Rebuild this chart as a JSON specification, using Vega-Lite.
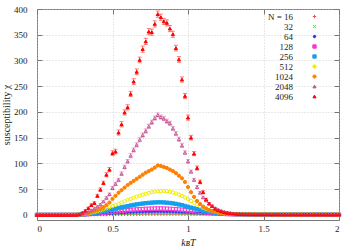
{
"$schema": "https://vega.github.io/schema/vega-lite/v6.json",
"width": 302, "height": 211,
"autosize": "none",
"padding": {"left": 37, "top": 9, "right": 19, "bottom": 30},
"background": "white",
"config": {
  "font": "Liberation Serif",
  "view": {"stroke": "#777", "strokeWidth": 1},
  "axis": {"labelFont": "Liberation Serif", "labelFontSize": 9, "labelColor": "#222", "titleFont": "Liberation Serif", "titleFontSize": 10, "titleFontWeight": "normal", "titleColor": "#222", "domain": false, "tickColor": "#777", "tickSize": -5, "gridColor": "#c8c8c8", "gridDash": [1, 2], "gridWidth": 0.8}
},
"data": {"values": [
{"N":"16","T":0,"c":0},{"N":"16","T":0.02,"c":0},{"N":"16","T":0.04,"c":0},{"N":"16","T":0.06,"c":0},{"N":"16","T":0.08,"c":0},{"N":"16","T":0.1,"c":0},{"N":"16","T":0.12,"c":0},{"N":"16","T":0.14,"c":0},{"N":"16","T":0.16,"c":0.03},{"N":"16","T":0.18,"c":0.05},
{"N":"16","T":0.2,"c":0.08},{"N":"16","T":0.22,"c":0.1},{"N":"16","T":0.24,"c":0.13},{"N":"16","T":0.26,"c":0.17},{"N":"16","T":0.28,"c":0.2},{"N":"16","T":0.3,"c":0.25},{"N":"16","T":0.32,"c":0.3},{"N":"16","T":0.34,"c":0.36},{"N":"16","T":0.36,"c":0.42},{"N":"16","T":0.38,"c":0.48},
{"N":"16","T":0.4,"c":0.55},{"N":"16","T":0.42,"c":0.62},{"N":"16","T":0.44,"c":0.69},{"N":"16","T":0.46,"c":0.76},{"N":"16","T":0.48,"c":0.83},{"N":"16","T":0.5,"c":0.9},{"N":"16","T":0.52,"c":0.97},{"N":"16","T":0.54,"c":1.04},{"N":"16","T":0.56,"c":1.1},{"N":"16","T":0.58,"c":1.16},
{"N":"16","T":0.6,"c":1.22},{"N":"16","T":0.62,"c":1.28},{"N":"16","T":0.64,"c":1.33},{"N":"16","T":0.66,"c":1.38},{"N":"16","T":0.68,"c":1.42},{"N":"16","T":0.7,"c":1.46},{"N":"16","T":0.72,"c":1.5},{"N":"16","T":0.74,"c":1.53},{"N":"16","T":0.76,"c":1.55},{"N":"16","T":0.78,"c":1.57},
{"N":"16","T":0.8,"c":1.58},{"N":"16","T":0.82,"c":1.58},{"N":"16","T":0.84,"c":1.58},{"N":"16","T":0.86,"c":1.57},{"N":"16","T":0.88,"c":1.56},{"N":"16","T":0.9,"c":1.54},{"N":"16","T":0.92,"c":1.52},{"N":"16","T":0.94,"c":1.5},{"N":"16","T":0.96,"c":1.47},{"N":"16","T":0.98,"c":1.44},
{"N":"16","T":1,"c":1.4},{"N":"16","T":1.02,"c":1.36},{"N":"16","T":1.04,"c":1.32},{"N":"16","T":1.06,"c":1.28},{"N":"16","T":1.08,"c":1.24},{"N":"16","T":1.1,"c":1.2},{"N":"16","T":1.12,"c":1.16},{"N":"16","T":1.14,"c":1.12},{"N":"16","T":1.16,"c":1.08},{"N":"16","T":1.18,"c":1.04},
{"N":"16","T":1.2,"c":1},{"N":"16","T":1.22,"c":0.97},{"N":"16","T":1.24,"c":0.95},{"N":"16","T":1.26,"c":0.93},{"N":"16","T":1.28,"c":0.91},{"N":"16","T":1.3,"c":0.89},{"N":"16","T":1.32,"c":0.87},{"N":"16","T":1.34,"c":0.85},{"N":"16","T":1.36,"c":0.83},{"N":"16","T":1.38,"c":0.81},
{"N":"16","T":1.4,"c":0.8},{"N":"16","T":1.42,"c":0.78},{"N":"16","T":1.44,"c":0.77},{"N":"16","T":1.46,"c":0.76},{"N":"16","T":1.48,"c":0.75},{"N":"16","T":1.5,"c":0.74},{"N":"16","T":1.52,"c":0.73},{"N":"16","T":1.54,"c":0.72},{"N":"16","T":1.56,"c":0.71},{"N":"16","T":1.58,"c":0.7},
{"N":"16","T":1.6,"c":0.7},{"N":"16","T":1.62,"c":0.69},{"N":"16","T":1.64,"c":0.68},{"N":"16","T":1.66,"c":0.67},{"N":"16","T":1.68,"c":0.66},{"N":"16","T":1.7,"c":0.65},{"N":"16","T":1.72,"c":0.64},{"N":"16","T":1.74,"c":0.63},{"N":"16","T":1.76,"c":0.62},{"N":"16","T":1.78,"c":0.61},
{"N":"16","T":1.8,"c":0.6},{"N":"16","T":1.82,"c":0.59},{"N":"16","T":1.84,"c":0.58},{"N":"16","T":1.86,"c":0.57},{"N":"16","T":1.88,"c":0.56},{"N":"16","T":1.9,"c":0.55},{"N":"16","T":1.92,"c":0.54},{"N":"16","T":1.94,"c":0.53},{"N":"16","T":1.96,"c":0.52},{"N":"16","T":1.98,"c":0.51},{"N":"16","T":2,"c":0.5},

{"N":"32","T":0,"c":0},{"N":"32","T":0.02,"c":0},{"N":"32","T":0.04,"c":0},{"N":"32","T":0.06,"c":0},{"N":"32","T":0.08,"c":0},{"N":"32","T":0.1,"c":0},{"N":"32","T":0.12,"c":0},{"N":"32","T":0.14,"c":0},{"N":"32","T":0.16,"c":0},{"N":"32","T":0.18,"c":0},
{"N":"32","T":0.2,"c":0.05},{"N":"32","T":0.22,"c":0.1},{"N":"32","T":0.24,"c":0.15},{"N":"32","T":0.26,"c":0.2},{"N":"32","T":0.28,"c":0.3},{"N":"32","T":0.3,"c":0.4},{"N":"32","T":0.32,"c":0.5},{"N":"32","T":0.34,"c":0.6},{"N":"32","T":0.36,"c":0.75},{"N":"32","T":0.38,"c":0.9},
{"N":"32","T":0.4,"c":1.05},{"N":"32","T":0.42,"c":1.2},{"N":"32","T":0.44,"c":1.35},{"N":"32","T":0.46,"c":1.5},{"N":"32","T":0.48,"c":1.65},{"N":"32","T":0.5,"c":1.8},{"N":"32","T":0.52,"c":1.95},{"N":"32","T":0.54,"c":2.1},{"N":"32","T":0.56,"c":2.25},{"N":"32","T":0.58,"c":2.4},
{"N":"32","T":0.6,"c":2.55},{"N":"32","T":0.62,"c":2.7},{"N":"32","T":0.64,"c":2.8},{"N":"32","T":0.66,"c":2.9},{"N":"32","T":0.68,"c":3},{"N":"32","T":0.7,"c":3.1},{"N":"32","T":0.72,"c":3.15},{"N":"32","T":0.74,"c":3.2},{"N":"32","T":0.76,"c":3.25},{"N":"32","T":0.78,"c":3.3},
{"N":"32","T":0.8,"c":3.3},{"N":"32","T":0.82,"c":3.3},{"N":"32","T":0.84,"c":3.25},{"N":"32","T":0.86,"c":3.2},{"N":"32","T":0.88,"c":3.15},{"N":"32","T":0.9,"c":3.1},{"N":"32","T":0.92,"c":3},{"N":"32","T":0.94,"c":2.9},{"N":"32","T":0.96,"c":2.8},{"N":"32","T":0.98,"c":2.7},
{"N":"32","T":1,"c":2.55},{"N":"32","T":1.02,"c":2.4},{"N":"32","T":1.04,"c":2.3},{"N":"32","T":1.06,"c":2.15},{"N":"32","T":1.08,"c":2},{"N":"32","T":1.1,"c":1.9},{"N":"32","T":1.12,"c":1.75},{"N":"32","T":1.14,"c":1.6},{"N":"32","T":1.16,"c":1.5},{"N":"32","T":1.18,"c":1.4},
{"N":"32","T":1.2,"c":1.3},{"N":"32","T":1.22,"c":1.2},{"N":"32","T":1.24,"c":1.1},{"N":"32","T":1.26,"c":1},{"N":"32","T":1.28,"c":0.95},{"N":"32","T":1.3,"c":0.9},{"N":"32","T":1.32,"c":0.85},{"N":"32","T":1.34,"c":0.85},{"N":"32","T":1.36,"c":0.8},{"N":"32","T":1.38,"c":0.8},
{"N":"32","T":1.4,"c":0.75},{"N":"32","T":1.42,"c":0.75},{"N":"32","T":1.44,"c":0.7},{"N":"32","T":1.46,"c":0.7},{"N":"32","T":1.48,"c":0.65},{"N":"32","T":1.5,"c":0.65},{"N":"32","T":1.52,"c":0.6},{"N":"32","T":1.54,"c":0.6},{"N":"32","T":1.56,"c":0.6},{"N":"32","T":1.58,"c":0.55},
{"N":"32","T":1.6,"c":0.55},{"N":"32","T":1.62,"c":0.5},{"N":"32","T":1.64,"c":0.5},{"N":"32","T":1.66,"c":0.5},{"N":"32","T":1.68,"c":0.5},{"N":"32","T":1.7,"c":0.5},{"N":"32","T":1.72,"c":0.45},{"N":"32","T":1.74,"c":0.45},{"N":"32","T":1.76,"c":0.45},{"N":"32","T":1.78,"c":0.45},
{"N":"32","T":1.8,"c":0.45},{"N":"32","T":1.82,"c":0.4},{"N":"32","T":1.84,"c":0.4},{"N":"32","T":1.86,"c":0.4},{"N":"32","T":1.88,"c":0.4},{"N":"32","T":1.9,"c":0.4},{"N":"32","T":1.92,"c":0.35},{"N":"32","T":1.94,"c":0.35},{"N":"32","T":1.96,"c":0.35},{"N":"32","T":1.98,"c":0.35},{"N":"32","T":2,"c":0.35},

{"N":"64","T":0,"c":0},{"N":"64","T":0.02,"c":0},{"N":"64","T":0.04,"c":0},{"N":"64","T":0.06,"c":0},{"N":"64","T":0.08,"c":0},{"N":"64","T":0.1,"c":0},{"N":"64","T":0.12,"c":0},{"N":"64","T":0.14,"c":0},{"N":"64","T":0.16,"c":0},{"N":"64","T":0.18,"c":0},
{"N":"64","T":0.2,"c":0},{"N":"64","T":0.22,"c":0},{"N":"64","T":0.24,"c":0.1},{"N":"64","T":0.26,"c":0.2},{"N":"64","T":0.28,"c":0.35},{"N":"64","T":0.3,"c":0.5},{"N":"64","T":0.32,"c":0.7},{"N":"64","T":0.34,"c":0.9},{"N":"64","T":0.36,"c":1.15},{"N":"64","T":0.38,"c":1.4},
{"N":"64","T":0.4,"c":1.7},{"N":"64","T":0.42,"c":2},{"N":"64","T":0.44,"c":2.3},{"N":"64","T":0.46,"c":2.6},{"N":"64","T":0.48,"c":2.9},{"N":"64","T":0.5,"c":3.2},{"N":"64","T":0.52,"c":3.5},{"N":"64","T":0.54,"c":3.8},{"N":"64","T":0.56,"c":4.1},{"N":"64","T":0.58,"c":4.4},
{"N":"64","T":0.6,"c":4.7},{"N":"64","T":0.62,"c":5},{"N":"64","T":0.64,"c":5.3},{"N":"64","T":0.66,"c":5.5},{"N":"64","T":0.68,"c":5.7},{"N":"64","T":0.7,"c":5.9},{"N":"64","T":0.72,"c":6.1},{"N":"64","T":0.74,"c":6.2},{"N":"64","T":0.76,"c":6.3},{"N":"64","T":0.78,"c":6.4},
{"N":"64","T":0.8,"c":6.4},{"N":"64","T":0.82,"c":6.4},{"N":"64","T":0.84,"c":6.3},{"N":"64","T":0.86,"c":6.2},{"N":"64","T":0.88,"c":6.1},{"N":"64","T":0.9,"c":5.9},{"N":"64","T":0.92,"c":5.7},{"N":"64","T":0.94,"c":5.5},{"N":"64","T":0.96,"c":5.2},{"N":"64","T":0.98,"c":4.9},
{"N":"64","T":1,"c":4.6},{"N":"64","T":1.02,"c":4.3},{"N":"64","T":1.04,"c":4},{"N":"64","T":1.06,"c":3.7},{"N":"64","T":1.08,"c":3.4},{"N":"64","T":1.1,"c":3.1},{"N":"64","T":1.12,"c":2.8},{"N":"64","T":1.14,"c":2.5},{"N":"64","T":1.16,"c":2.2},{"N":"64","T":1.18,"c":2},
{"N":"64","T":1.2,"c":1.8},{"N":"64","T":1.22,"c":1.6},{"N":"64","T":1.24,"c":1.4},{"N":"64","T":1.26,"c":1.3},{"N":"64","T":1.28,"c":1.15},{"N":"64","T":1.3,"c":1.05},{"N":"64","T":1.32,"c":0.95},{"N":"64","T":1.34,"c":0.9},{"N":"64","T":1.36,"c":0.85},{"N":"64","T":1.38,"c":0.85},
{"N":"64","T":1.4,"c":0.8},{"N":"64","T":1.42,"c":0.8},{"N":"64","T":1.44,"c":0.75},{"N":"64","T":1.46,"c":0.7},{"N":"64","T":1.48,"c":0.7},{"N":"64","T":1.5,"c":0.65},{"N":"64","T":1.52,"c":0.65},{"N":"64","T":1.54,"c":0.6},{"N":"64","T":1.56,"c":0.6},{"N":"64","T":1.58,"c":0.55},
{"N":"64","T":1.6,"c":0.55},{"N":"64","T":1.62,"c":0.5},{"N":"64","T":1.64,"c":0.5},{"N":"64","T":1.66,"c":0.5},{"N":"64","T":1.68,"c":0.5},{"N":"64","T":1.7,"c":0.5},{"N":"64","T":1.72,"c":0.45},{"N":"64","T":1.74,"c":0.45},{"N":"64","T":1.76,"c":0.45},{"N":"64","T":1.78,"c":0.45},
{"N":"64","T":1.8,"c":0.45},{"N":"64","T":1.82,"c":0.4},{"N":"64","T":1.84,"c":0.4},{"N":"64","T":1.86,"c":0.4},{"N":"64","T":1.88,"c":0.4},{"N":"64","T":1.9,"c":0.4},{"N":"64","T":1.92,"c":0.35},{"N":"64","T":1.94,"c":0.35},{"N":"64","T":1.96,"c":0.35},{"N":"64","T":1.98,"c":0.35},{"N":"64","T":2,"c":0.35},

{"N":"128","T":0,"c":0},{"N":"128","T":0.02,"c":0},{"N":"128","T":0.04,"c":0},{"N":"128","T":0.06,"c":0},{"N":"128","T":0.08,"c":0},{"N":"128","T":0.1,"c":0},{"N":"128","T":0.12,"c":0},{"N":"128","T":0.14,"c":0},{"N":"128","T":0.16,"c":0},{"N":"128","T":0.18,"c":0},
{"N":"128","T":0.2,"c":0},{"N":"128","T":0.22,"c":0},{"N":"128","T":0.24,"c":0},{"N":"128","T":0.26,"c":0.2},{"N":"128","T":0.28,"c":0.4},{"N":"128","T":0.3,"c":0.7},{"N":"128","T":0.32,"c":1},{"N":"128","T":0.34,"c":1.4},{"N":"128","T":0.36,"c":1.8},{"N":"128","T":0.38,"c":2.3},
{"N":"128","T":0.4,"c":2.8},{"N":"128","T":0.42,"c":3.4},{"N":"128","T":0.44,"c":4},{"N":"128","T":0.46,"c":4.6},{"N":"128","T":0.48,"c":5.2},{"N":"128","T":0.5,"c":5.9},{"N":"128","T":0.52,"c":6.5},{"N":"128","T":0.54,"c":7.2},{"N":"128","T":0.56,"c":7.8},{"N":"128","T":0.58,"c":8.4},
{"N":"128","T":0.6,"c":9},{"N":"128","T":0.62,"c":9.6},{"N":"128","T":0.64,"c":10.1},{"N":"128","T":0.66,"c":10.6},{"N":"128","T":0.68,"c":11},{"N":"128","T":0.7,"c":11.4},{"N":"128","T":0.72,"c":11.7},{"N":"128","T":0.74,"c":12},{"N":"128","T":0.76,"c":12.2},{"N":"128","T":0.78,"c":12.3},
{"N":"128","T":0.8,"c":12.4},{"N":"128","T":0.82,"c":12.4},{"N":"128","T":0.84,"c":12.3},{"N":"128","T":0.86,"c":12.1},{"N":"128","T":0.88,"c":11.8},{"N":"128","T":0.9,"c":11.4},{"N":"128","T":0.92,"c":11},{"N":"128","T":0.94,"c":10.5},{"N":"128","T":0.96,"c":9.9},{"N":"128","T":0.98,"c":9.3},
{"N":"128","T":1,"c":8.6},{"N":"128","T":1.02,"c":7.9},{"N":"128","T":1.04,"c":7.2},{"N":"128","T":1.06,"c":6.5},{"N":"128","T":1.08,"c":5.8},{"N":"128","T":1.1,"c":5.1},{"N":"128","T":1.12,"c":4.5},{"N":"128","T":1.14,"c":3.9},{"N":"128","T":1.16,"c":3.4},{"N":"128","T":1.18,"c":2.9},
{"N":"128","T":1.2,"c":2.5},{"N":"128","T":1.22,"c":2.2},{"N":"128","T":1.24,"c":1.9},{"N":"128","T":1.26,"c":1.6},{"N":"128","T":1.28,"c":1.4},{"N":"128","T":1.3,"c":1.2},{"N":"128","T":1.32,"c":1.05},{"N":"128","T":1.34,"c":0.95},{"N":"128","T":1.36,"c":0.9},{"N":"128","T":1.38,"c":0.85},
{"N":"128","T":1.4,"c":0.8},{"N":"128","T":1.42,"c":0.8},{"N":"128","T":1.44,"c":0.75},{"N":"128","T":1.46,"c":0.7},{"N":"128","T":1.48,"c":0.7},{"N":"128","T":1.5,"c":0.65},{"N":"128","T":1.52,"c":0.65},{"N":"128","T":1.54,"c":0.6},{"N":"128","T":1.56,"c":0.6},{"N":"128","T":1.58,"c":0.55},
{"N":"128","T":1.6,"c":0.55},{"N":"128","T":1.62,"c":0.5},{"N":"128","T":1.64,"c":0.5},{"N":"128","T":1.66,"c":0.5},{"N":"128","T":1.68,"c":0.5},{"N":"128","T":1.7,"c":0.5},{"N":"128","T":1.72,"c":0.45},{"N":"128","T":1.74,"c":0.45},{"N":"128","T":1.76,"c":0.45},{"N":"128","T":1.78,"c":0.45},
{"N":"128","T":1.8,"c":0.45},{"N":"128","T":1.82,"c":0.4},{"N":"128","T":1.84,"c":0.4},{"N":"128","T":1.86,"c":0.4},{"N":"128","T":1.88,"c":0.4},{"N":"128","T":1.9,"c":0.4},{"N":"128","T":1.92,"c":0.35},{"N":"128","T":1.94,"c":0.35},{"N":"128","T":1.96,"c":0.35},{"N":"128","T":1.98,"c":0.35},{"N":"128","T":2,"c":0.35},

{"N":"256","T":0,"c":0},{"N":"256","T":0.02,"c":0},{"N":"256","T":0.04,"c":0},{"N":"256","T":0.06,"c":0},{"N":"256","T":0.08,"c":0},{"N":"256","T":0.1,"c":0},{"N":"256","T":0.12,"c":0},{"N":"256","T":0.14,"c":0},{"N":"256","T":0.16,"c":0},{"N":"256","T":0.18,"c":0},
{"N":"256","T":0.2,"c":0},{"N":"256","T":0.22,"c":0},{"N":"256","T":0.24,"c":0},{"N":"256","T":0.26,"c":0},{"N":"256","T":0.28,"c":0.3},{"N":"256","T":0.3,"c":0.7},{"N":"256","T":0.32,"c":1.2},{"N":"256","T":0.34,"c":1.8},{"N":"256","T":0.36,"c":2.6},{"N":"256","T":0.38,"c":3.5},
{"N":"256","T":0.4,"c":4.5},{"N":"256","T":0.42,"c":5.6},{"N":"256","T":0.44,"c":6.8},{"N":"256","T":0.46,"c":8},{"N":"256","T":0.48,"c":9.3},{"N":"256","T":0.5,"c":10.6},{"N":"256","T":0.52,"c":11.9},{"N":"256","T":0.54,"c":13.2},{"N":"256","T":0.56,"c":14.5},{"N":"256","T":0.58,"c":15.8},
{"N":"256","T":0.6,"c":17},{"N":"256","T":0.62,"c":18.2},{"N":"256","T":0.64,"c":19.3},{"N":"256","T":0.66,"c":20.3},{"N":"256","T":0.68,"c":21.2},{"N":"256","T":0.7,"c":22},{"N":"256","T":0.72,"c":22.7},{"N":"256","T":0.74,"c":23.3},{"N":"256","T":0.76,"c":23.8},{"N":"256","T":0.78,"c":24.1},
{"N":"256","T":0.8,"c":24.3},{"N":"256","T":0.82,"c":24.3},{"N":"256","T":0.84,"c":24.1},{"N":"256","T":0.86,"c":23.7},{"N":"256","T":0.88,"c":23.1},{"N":"256","T":0.9,"c":22.3},{"N":"256","T":0.92,"c":21.3},{"N":"256","T":0.94,"c":20.1},{"N":"256","T":0.96,"c":18.8},{"N":"256","T":0.98,"c":17.3},
{"N":"256","T":1,"c":15.7},{"N":"256","T":1.02,"c":14.1},{"N":"256","T":1.04,"c":12.5},{"N":"256","T":1.06,"c":11},{"N":"256","T":1.08,"c":9.5},{"N":"256","T":1.1,"c":8.1},{"N":"256","T":1.12,"c":6.9},{"N":"256","T":1.14,"c":5.8},{"N":"256","T":1.16,"c":4.9},{"N":"256","T":1.18,"c":4.1},
{"N":"256","T":1.2,"c":3.4},{"N":"256","T":1.22,"c":2.8},{"N":"256","T":1.24,"c":2.3},{"N":"256","T":1.26,"c":1.9},{"N":"256","T":1.28,"c":1.6},{"N":"256","T":1.3,"c":1.4},{"N":"256","T":1.32,"c":1.2},{"N":"256","T":1.34,"c":1.05},{"N":"256","T":1.36,"c":0.95},{"N":"256","T":1.38,"c":0.9},
{"N":"256","T":1.4,"c":0.85},{"N":"256","T":1.42,"c":0.8},{"N":"256","T":1.44,"c":0.8},{"N":"256","T":1.46,"c":0.75},{"N":"256","T":1.48,"c":0.7},{"N":"256","T":1.5,"c":0.7},{"N":"256","T":1.52,"c":0.65},{"N":"256","T":1.54,"c":0.65},{"N":"256","T":1.56,"c":0.6},{"N":"256","T":1.58,"c":0.6},
{"N":"256","T":1.6,"c":0.55},{"N":"256","T":1.62,"c":0.55},{"N":"256","T":1.64,"c":0.55},{"N":"256","T":1.66,"c":0.55},{"N":"256","T":1.68,"c":0.55},{"N":"256","T":1.7,"c":0.5},{"N":"256","T":1.72,"c":0.5},{"N":"256","T":1.74,"c":0.5},{"N":"256","T":1.76,"c":0.5},{"N":"256","T":1.78,"c":0.5},
{"N":"256","T":1.8,"c":0.5},{"N":"256","T":1.82,"c":0.45},{"N":"256","T":1.84,"c":0.45},{"N":"256","T":1.86,"c":0.45},{"N":"256","T":1.88,"c":0.45},{"N":"256","T":1.9,"c":0.45},{"N":"256","T":1.92,"c":0.4},{"N":"256","T":1.94,"c":0.4},{"N":"256","T":1.96,"c":0.4},{"N":"256","T":1.98,"c":0.4},{"N":"256","T":2,"c":0.4},

{"N":"512","T":0,"c":0},{"N":"512","T":0.02,"c":0},{"N":"512","T":0.04,"c":0},{"N":"512","T":0.06,"c":0},{"N":"512","T":0.08,"c":0},{"N":"512","T":0.1,"c":0},{"N":"512","T":0.12,"c":0},{"N":"512","T":0.14,"c":0},{"N":"512","T":0.16,"c":0},{"N":"512","T":0.18,"c":0},
{"N":"512","T":0.2,"c":0},{"N":"512","T":0.22,"c":0},{"N":"512","T":0.24,"c":0},{"N":"512","T":0.26,"c":0.2},{"N":"512","T":0.28,"c":0.5},{"N":"512","T":0.3,"c":1},{"N":"512","T":0.32,"c":1.8},{"N":"512","T":0.34,"c":2.8},{"N":"512","T":0.36,"c":4},{"N":"512","T":0.38,"c":5.5},
{"N":"512","T":0.4,"c":7},{"N":"512","T":0.42,"c":8.8},{"N":"512","T":0.44,"c":10.7},{"N":"512","T":0.46,"c":12.7},{"N":"512","T":0.48,"c":14.8},{"N":"512","T":0.5,"c":17},{"N":"512","T":0.52,"c":19.3},{"N":"512","T":0.54,"c":21.6},{"N":"512","T":0.56,"c":24},{"N":"512","T":0.58,"c":26.4},
{"N":"512","T":0.6,"c":28.8},{"N":"512","T":0.62,"c":31},{"N":"512","T":0.64,"c":33.2},{"N":"512","T":0.66,"c":35.3},{"N":"512","T":0.68,"c":37.3},{"N":"512","T":0.7,"c":39.2},{"N":"512","T":0.72,"c":41},{"N":"512","T":0.74,"c":42.6},{"N":"512","T":0.76,"c":44},{"N":"512","T":0.78,"c":45.2},
{"N":"512","T":0.8,"c":46},{"N":"512","T":0.82,"c":46.4},{"N":"512","T":0.84,"c":46.3},{"N":"512","T":0.86,"c":45.8},{"N":"512","T":0.88,"c":44.8},{"N":"512","T":0.9,"c":43.4},{"N":"512","T":0.92,"c":41.6},{"N":"512","T":0.94,"c":39.4},{"N":"512","T":0.96,"c":36.8},{"N":"512","T":0.98,"c":33.8},
{"N":"512","T":1,"c":30.5},{"N":"512","T":1.02,"c":27},{"N":"512","T":1.04,"c":23.5},{"N":"512","T":1.06,"c":20},{"N":"512","T":1.08,"c":16.8},{"N":"512","T":1.1,"c":13.8},{"N":"512","T":1.12,"c":11.2},{"N":"512","T":1.14,"c":9},{"N":"512","T":1.16,"c":7.2},{"N":"512","T":1.18,"c":5.8},
{"N":"512","T":1.2,"c":4.6},{"N":"512","T":1.22,"c":3.7},{"N":"512","T":1.24,"c":3},{"N":"512","T":1.26,"c":2.4},{"N":"512","T":1.28,"c":2},{"N":"512","T":1.3,"c":1.7},{"N":"512","T":1.32,"c":1.4},{"N":"512","T":1.34,"c":1.2},{"N":"512","T":1.36,"c":1.1},{"N":"512","T":1.38,"c":1},
{"N":"512","T":1.4,"c":0.9},{"N":"512","T":1.42,"c":0.9},{"N":"512","T":1.44,"c":0.8},{"N":"512","T":1.46,"c":0.8},{"N":"512","T":1.48,"c":0.8},{"N":"512","T":1.5,"c":0.7},{"N":"512","T":1.52,"c":0.7},{"N":"512","T":1.54,"c":0.7},{"N":"512","T":1.56,"c":0.7},{"N":"512","T":1.58,"c":0.6},
{"N":"512","T":1.6,"c":0.6},{"N":"512","T":1.62,"c":0.6},{"N":"512","T":1.64,"c":0.6},{"N":"512","T":1.66,"c":0.6},{"N":"512","T":1.68,"c":0.6},{"N":"512","T":1.7,"c":0.5},{"N":"512","T":1.72,"c":0.5},{"N":"512","T":1.74,"c":0.5},{"N":"512","T":1.76,"c":0.5},{"N":"512","T":1.78,"c":0.5},
{"N":"512","T":1.8,"c":0.5},{"N":"512","T":1.82,"c":0.5},{"N":"512","T":1.84,"c":0.5},{"N":"512","T":1.86,"c":0.4},{"N":"512","T":1.88,"c":0.4},{"N":"512","T":1.9,"c":0.4},{"N":"512","T":1.92,"c":0.4},{"N":"512","T":1.94,"c":0.4},{"N":"512","T":1.96,"c":0.4},{"N":"512","T":1.98,"c":0.4},{"N":"512","T":2,"c":0.4},

{"N":"1024","T":0,"c":0},{"N":"1024","T":0.02,"c":0},{"N":"1024","T":0.04,"c":0},{"N":"1024","T":0.06,"c":0},{"N":"1024","T":0.08,"c":0},{"N":"1024","T":0.1,"c":0},{"N":"1024","T":0.12,"c":0},{"N":"1024","T":0.14,"c":0},{"N":"1024","T":0.16,"c":0},{"N":"1024","T":0.18,"c":0},
{"N":"1024","T":0.2,"c":0},{"N":"1024","T":0.22,"c":0},{"N":"1024","T":0.24,"c":0},{"N":"1024","T":0.26,"c":0},{"N":"1024","T":0.28,"c":0.5},{"N":"1024","T":0.3,"c":1},{"N":"1024","T":0.32,"c":2},{"N":"1024","T":0.34,"c":3},{"N":"1024","T":0.36,"c":5},{"N":"1024","T":0.38,"c":7},
{"N":"1024","T":0.4,"c":9},{"N":"1024","T":0.42,"c":12},{"N":"1024","T":0.44,"c":15},{"N":"1024","T":0.46,"c":19},{"N":"1024","T":0.48,"c":24},{"N":"1024","T":0.5,"c":31},{"N":"1024","T":0.52,"c":37},{"N":"1024","T":0.54,"c":43},{"N":"1024","T":0.56,"c":48},{"N":"1024","T":0.58,"c":53},
{"N":"1024","T":0.6,"c":58},{"N":"1024","T":0.62,"c":62},{"N":"1024","T":0.64,"c":66},{"N":"1024","T":0.66,"c":70},{"N":"1024","T":0.68,"c":74},{"N":"1024","T":0.7,"c":78},{"N":"1024","T":0.72,"c":82},{"N":"1024","T":0.74,"c":85},{"N":"1024","T":0.76,"c":88},{"N":"1024","T":0.78,"c":92},
{"N":"1024","T":0.8,"c":96},{"N":"1024","T":0.82,"c":95},{"N":"1024","T":0.84,"c":93},{"N":"1024","T":0.86,"c":91},{"N":"1024","T":0.88,"c":88},{"N":"1024","T":0.9,"c":85},{"N":"1024","T":0.92,"c":81},{"N":"1024","T":0.94,"c":76},{"N":"1024","T":0.96,"c":71},{"N":"1024","T":0.98,"c":64},
{"N":"1024","T":1,"c":54},{"N":"1024","T":1.02,"c":44},{"N":"1024","T":1.04,"c":35},{"N":"1024","T":1.06,"c":27},{"N":"1024","T":1.08,"c":21},{"N":"1024","T":1.1,"c":16},{"N":"1024","T":1.12,"c":12.5},{"N":"1024","T":1.14,"c":9.5},{"N":"1024","T":1.16,"c":7.5},{"N":"1024","T":1.18,"c":5.8},
{"N":"1024","T":1.2,"c":4.5},{"N":"1024","T":1.22,"c":3.5},{"N":"1024","T":1.24,"c":2.8},{"N":"1024","T":1.26,"c":2.2},{"N":"1024","T":1.28,"c":1.8},{"N":"1024","T":1.3,"c":1.5},{"N":"1024","T":1.32,"c":1.3},{"N":"1024","T":1.34,"c":1.1},{"N":"1024","T":1.36,"c":1},{"N":"1024","T":1.38,"c":0.9},
{"N":"1024","T":1.4,"c":0.9},{"N":"1024","T":1.42,"c":0.9},{"N":"1024","T":1.44,"c":0.8},{"N":"1024","T":1.46,"c":0.8},{"N":"1024","T":1.48,"c":0.8},{"N":"1024","T":1.5,"c":0.8},{"N":"1024","T":1.52,"c":0.7},{"N":"1024","T":1.54,"c":0.7},{"N":"1024","T":1.56,"c":0.7},{"N":"1024","T":1.58,"c":0.7},
{"N":"1024","T":1.6,"c":0.6},{"N":"1024","T":1.62,"c":0.6},{"N":"1024","T":1.64,"c":0.6},{"N":"1024","T":1.66,"c":0.6},{"N":"1024","T":1.68,"c":0.6},{"N":"1024","T":1.7,"c":0.6},{"N":"1024","T":1.72,"c":0.5},{"N":"1024","T":1.74,"c":0.5},{"N":"1024","T":1.76,"c":0.5},{"N":"1024","T":1.78,"c":0.5},
{"N":"1024","T":1.8,"c":0.5},{"N":"1024","T":1.82,"c":0.5},{"N":"1024","T":1.84,"c":0.5},{"N":"1024","T":1.86,"c":0.5},{"N":"1024","T":1.88,"c":0.5},{"N":"1024","T":1.9,"c":0.5},{"N":"1024","T":1.92,"c":0.4},{"N":"1024","T":1.94,"c":0.4},{"N":"1024","T":1.96,"c":0.4},{"N":"1024","T":1.98,"c":0.4},{"N":"1024","T":2,"c":0.4},

{"N":"2048","T":0,"c":0,"e":0.3},{"N":"2048","T":0.02,"c":0,"e":0.3},{"N":"2048","T":0.04,"c":0,"e":0.3},{"N":"2048","T":0.06,"c":0,"e":0.3},{"N":"2048","T":0.08,"c":0,"e":0.3},{"N":"2048","T":0.1,"c":0,"e":0.3},{"N":"2048","T":0.12,"c":0,"e":0.3},{"N":"2048","T":0.14,"c":0,"e":0.3},{"N":"2048","T":0.16,"c":0,"e":0.3},{"N":"2048","T":0.18,"c":0,"e":0.3},
{"N":"2048","T":0.2,"c":0,"e":0.3},{"N":"2048","T":0.22,"c":0,"e":0.3},{"N":"2048","T":0.24,"c":0,"e":0.3},{"N":"2048","T":0.26,"c":0,"e":0.3},{"N":"2048","T":0.28,"c":1,"e":0.5},{"N":"2048","T":0.3,"c":2,"e":0.7},{"N":"2048","T":0.32,"c":4,"e":1},{"N":"2048","T":0.34,"c":6,"e":1},{"N":"2048","T":0.36,"c":9,"e":1.2},{"N":"2048","T":0.38,"c":12,"e":1.5},
{"N":"2048","T":0.4,"c":16,"e":1.5},{"N":"2048","T":0.42,"c":20,"e":2},{"N":"2048","T":0.44,"c":26,"e":2},{"N":"2048","T":0.46,"c":33,"e":2.5},{"N":"2048","T":0.48,"c":40,"e":2.5},{"N":"2048","T":0.5,"c":52,"e":3},{"N":"2048","T":0.52,"c":60,"e":3},{"N":"2048","T":0.54,"c":68,"e":3},{"N":"2048","T":0.56,"c":80,"e":3.5},{"N":"2048","T":0.58,"c":93,"e":3.5},
{"N":"2048","T":0.6,"c":104,"e":3.5},{"N":"2048","T":0.62,"c":115,"e":4},{"N":"2048","T":0.64,"c":126,"e":4},{"N":"2048","T":0.66,"c":136,"e":4},{"N":"2048","T":0.68,"c":146,"e":4},{"N":"2048","T":0.7,"c":155,"e":4},{"N":"2048","T":0.72,"c":163,"e":4},{"N":"2048","T":0.74,"c":172,"e":4},{"N":"2048","T":0.76,"c":180,"e":4},{"N":"2048","T":0.78,"c":188,"e":4},
{"N":"2048","T":0.8,"c":194,"e":4},{"N":"2048","T":0.82,"c":190,"e":4},{"N":"2048","T":0.84,"c":187,"e":4},{"N":"2048","T":0.86,"c":182,"e":4},{"N":"2048","T":0.88,"c":178,"e":4},{"N":"2048","T":0.9,"c":168,"e":4},{"N":"2048","T":0.92,"c":158,"e":4},{"N":"2048","T":0.94,"c":147,"e":4},{"N":"2048","T":0.96,"c":135,"e":4},{"N":"2048","T":0.98,"c":121,"e":3.5},
{"N":"2048","T":1,"c":104,"e":3.5},{"N":"2048","T":1.02,"c":84,"e":3},{"N":"2048","T":1.04,"c":68,"e":3},{"N":"2048","T":1.06,"c":54,"e":3},{"N":"2048","T":1.08,"c":43,"e":2.5},{"N":"2048","T":1.1,"c":34,"e":2.5},{"N":"2048","T":1.12,"c":28,"e":2},{"N":"2048","T":1.14,"c":22,"e":2},{"N":"2048","T":1.16,"c":17,"e":1.5},{"N":"2048","T":1.18,"c":13,"e":1.5},
{"N":"2048","T":1.2,"c":10,"e":1.2},{"N":"2048","T":1.22,"c":8,"e":1},{"N":"2048","T":1.24,"c":6,"e":1},{"N":"2048","T":1.26,"c":4.5,"e":0.8},{"N":"2048","T":1.28,"c":3.5,"e":0.7},{"N":"2048","T":1.3,"c":2.8,"e":0.6},{"N":"2048","T":1.32,"c":2.2,"e":0.5},{"N":"2048","T":1.34,"c":1.8,"e":0.4},{"N":"2048","T":1.36,"c":1.5,"e":0.4},{"N":"2048","T":1.38,"c":1.3,"e":0.4},
{"N":"2048","T":1.4,"c":1.1,"e":0.3},{"N":"2048","T":1.42,"c":1,"e":0.3},{"N":"2048","T":1.44,"c":1,"e":0.3},{"N":"2048","T":1.46,"c":1,"e":0.3},{"N":"2048","T":1.48,"c":0.9,"e":0.3},{"N":"2048","T":1.5,"c":0.9,"e":0.3},{"N":"2048","T":1.52,"c":0.9,"e":0.3},{"N":"2048","T":1.54,"c":0.9,"e":0.3},{"N":"2048","T":1.56,"c":0.8,"e":0.3},{"N":"2048","T":1.58,"c":0.8,"e":0.3},
{"N":"2048","T":1.6,"c":0.8,"e":0.3},{"N":"2048","T":1.62,"c":0.7,"e":0.3},{"N":"2048","T":1.64,"c":0.7,"e":0.3},{"N":"2048","T":1.66,"c":0.7,"e":0.3},{"N":"2048","T":1.68,"c":0.7,"e":0.3},{"N":"2048","T":1.7,"c":0.7,"e":0.3},{"N":"2048","T":1.72,"c":0.7,"e":0.3},{"N":"2048","T":1.74,"c":0.7,"e":0.3},{"N":"2048","T":1.76,"c":0.6,"e":0.3},{"N":"2048","T":1.78,"c":0.6,"e":0.3},
{"N":"2048","T":1.8,"c":0.6,"e":0.3},{"N":"2048","T":1.82,"c":0.6,"e":0.3},{"N":"2048","T":1.84,"c":0.6,"e":0.3},{"N":"2048","T":1.86,"c":0.6,"e":0.3},{"N":"2048","T":1.88,"c":0.6,"e":0.3},{"N":"2048","T":1.9,"c":0.5,"e":0.3},{"N":"2048","T":1.92,"c":0.5,"e":0.3},{"N":"2048","T":1.94,"c":0.5,"e":0.3},{"N":"2048","T":1.96,"c":0.5,"e":0.3},{"N":"2048","T":1.98,"c":0.5,"e":0.3},{"N":"2048","T":2,"c":0.5,"e":0.3},

{"N":"4096","T":0,"c":0,"e":0.5},{"N":"4096","T":0.02,"c":0,"e":0.5},{"N":"4096","T":0.04,"c":0,"e":0.5},{"N":"4096","T":0.06,"c":0,"e":0.5},{"N":"4096","T":0.08,"c":0,"e":0.5},{"N":"4096","T":0.1,"c":0,"e":0.5},{"N":"4096","T":0.12,"c":0,"e":0.5},{"N":"4096","T":0.14,"c":0,"e":0.5},{"N":"4096","T":0.16,"c":0,"e":0.5},{"N":"4096","T":0.18,"c":0,"e":0.5},
{"N":"4096","T":0.2,"c":0,"e":0.5},{"N":"4096","T":0.22,"c":0,"e":0.5},{"N":"4096","T":0.24,"c":0,"e":0.5},{"N":"4096","T":0.26,"c":0,"e":0.5},{"N":"4096","T":0.28,"c":1,"e":1},{"N":"4096","T":0.3,"c":4,"e":1.5},{"N":"4096","T":0.32,"c":8,"e":2},{"N":"4096","T":0.34,"c":13,"e":2},{"N":"4096","T":0.36,"c":19,"e":2.5},{"N":"4096","T":0.38,"c":23,"e":2.5},
{"N":"4096","T":0.4,"c":37,"e":3},{"N":"4096","T":0.42,"c":49,"e":3.5},{"N":"4096","T":0.44,"c":62,"e":3.5},{"N":"4096","T":0.46,"c":78,"e":4},{"N":"4096","T":0.48,"c":88,"e":4},{"N":"4096","T":0.5,"c":120,"e":4.5},{"N":"4096","T":0.52,"c":123,"e":4.5},{"N":"4096","T":0.54,"c":160,"e":5},{"N":"4096","T":0.56,"c":176,"e":5},{"N":"4096","T":0.58,"c":199,"e":5},
{"N":"4096","T":0.6,"c":209,"e":5},{"N":"4096","T":0.62,"c":235,"e":5},{"N":"4096","T":0.64,"c":259,"e":5.5},{"N":"4096","T":0.66,"c":278,"e":5.5},{"N":"4096","T":0.68,"c":301,"e":5.5},{"N":"4096","T":0.7,"c":322,"e":6},{"N":"4096","T":0.72,"c":337,"e":6},{"N":"4096","T":0.74,"c":356,"e":6},{"N":"4096","T":0.76,"c":355,"e":6},{"N":"4096","T":0.78,"c":371,"e":6},
{"N":"4096","T":0.8,"c":390,"e":6},{"N":"4096","T":0.82,"c":384,"e":6},{"N":"4096","T":0.84,"c":376,"e":6},{"N":"4096","T":0.86,"c":373,"e":6},{"N":"4096","T":0.88,"c":362,"e":6},{"N":"4096","T":0.9,"c":351,"e":6},{"N":"4096","T":0.92,"c":324,"e":5.5},{"N":"4096","T":0.94,"c":302,"e":5.5},{"N":"4096","T":0.96,"c":263,"e":5},{"N":"4096","T":0.98,"c":231,"e":5},
{"N":"4096","T":1,"c":189,"e":5},{"N":"4096","T":1.02,"c":150,"e":4.5},{"N":"4096","T":1.04,"c":119,"e":4},{"N":"4096","T":1.06,"c":91,"e":4},{"N":"4096","T":1.08,"c":64,"e":3.5},{"N":"4096","T":1.1,"c":44,"e":3},{"N":"4096","T":1.12,"c":30,"e":2.5},{"N":"4096","T":1.14,"c":22,"e":2},{"N":"4096","T":1.16,"c":17,"e":2},{"N":"4096","T":1.18,"c":12,"e":1.5},
{"N":"4096","T":1.2,"c":9,"e":1.5},{"N":"4096","T":1.22,"c":7,"e":1},{"N":"4096","T":1.24,"c":5,"e":1},{"N":"4096","T":1.26,"c":4,"e":1},{"N":"4096","T":1.28,"c":3,"e":1},{"N":"4096","T":1.3,"c":2.5,"e":0.8},{"N":"4096","T":1.32,"c":2,"e":0.8},{"N":"4096","T":1.34,"c":1.7,"e":0.7},{"N":"4096","T":1.36,"c":1.5,"e":0.6},{"N":"4096","T":1.38,"c":1.3,"e":0.6},
{"N":"4096","T":1.4,"c":1.2,"e":0.5},{"N":"4096","T":1.42,"c":1.1,"e":0.5},{"N":"4096","T":1.44,"c":1.1,"e":0.5},{"N":"4096","T":1.46,"c":1,"e":0.5},{"N":"4096","T":1.48,"c":1,"e":0.5},{"N":"4096","T":1.5,"c":1,"e":0.5},{"N":"4096","T":1.52,"c":1,"e":0.5},{"N":"4096","T":1.54,"c":0.9,"e":0.5},{"N":"4096","T":1.56,"c":0.9,"e":0.5},{"N":"4096","T":1.58,"c":0.9,"e":0.5},
{"N":"4096","T":1.6,"c":0.9,"e":0.5},{"N":"4096","T":1.62,"c":0.8,"e":0.4},{"N":"4096","T":1.64,"c":0.8,"e":0.4},{"N":"4096","T":1.66,"c":0.8,"e":0.4},{"N":"4096","T":1.68,"c":0.8,"e":0.4},{"N":"4096","T":1.7,"c":0.8,"e":0.4},{"N":"4096","T":1.72,"c":0.7,"e":0.4},{"N":"4096","T":1.74,"c":0.7,"e":0.4},{"N":"4096","T":1.76,"c":0.7,"e":0.4},{"N":"4096","T":1.78,"c":0.7,"e":0.4},
{"N":"4096","T":1.8,"c":0.7,"e":0.4},{"N":"4096","T":1.82,"c":0.6,"e":0.4},{"N":"4096","T":1.84,"c":0.6,"e":0.4},{"N":"4096","T":1.86,"c":0.6,"e":0.4},{"N":"4096","T":1.88,"c":0.6,"e":0.4},{"N":"4096","T":1.9,"c":0.6,"e":0.4},{"N":"4096","T":1.92,"c":0.5,"e":0.4},{"N":"4096","T":1.94,"c":0.5,"e":0.4},{"N":"4096","T":1.96,"c":0.5,"e":0.4},{"N":"4096","T":1.98,"c":0.5,"e":0.4},{"N":"4096","T":2,"c":0.5,"e":0.4}
]},
"layer": [
  {
    "mark": {"type": "point", "filled": false, "strokeWidth": 1, "opacity": 1},
    "encoding": {
      "x": {"field": "T", "type": "quantitative", "scale": {"domain": [0, 2], "nice": false, "zero": false}, "axis": {"title": "k\u0299T", "titleFontStyle": "italic", "values": [0, 0.5, 1, 1.5, 2], "format": "~g", "labelPadding": 9, "titlePadding": 4, "grid": true}},
      "y": {"field": "c", "type": "quantitative", "scale": {"domain": [-10, 400], "nice": false, "zero": false}, "axis": {"title": "susceptibility χ", "values": [0, 50, 100, 150, 200, 250, 300, 350, 400], "labelPadding": 15, "titlePadding": 2, "grid": true}},
      "color": {"field": "N", "type": "nominal", "scale": {"domain": ["16","32","64","128","256","512","1024","2048","4096"], "range": ["#f25050","#44dd44","#3333ff","#ff33cc","#11a0ee","#eeee00","#ff8000","#cc5599","#ff0000"]},
        "legend": {"title": null, "orient": "none", "legendX": 273, "legendY": 3, "symbolSize": 64, "symbolStrokeWidth": 1, "labelFont": "Liberation Serif", "labelFontSize": 9, "labelColor": "#222", "labelAlign": "right", "labelOffset": -26, "rowPadding": -2.5,
          "labelExpr": "datum.label == '16' ? 'N = 16' : datum.label",
          "encode": {"symbols": {
            "shape": {"value": {"expr": "'M-3.25,0H3.25M-3.25,-0.75V0.75M3.25,-0.75V0.75' + (datum.value == '16' ? 'M0,-0.6V0.6' : datum.value == '32' ? 'M-0.5,-0.5L0.5,0.5M-0.5,0.5L0.5,-0.5' : datum.value == '64' ? 'M0,-0.6V0.6M-0.45,-0.45L0.45,0.45M-0.45,0.45L0.45,-0.45' : (datum.value == '128' || datum.value == '256') ? 'M-0.55,-0.55H0.55V0.55H-0.55Z' : (datum.value == '512' || datum.value == '1024') ? 'M0.6,0A0.6,0.6 0 1,1 -0.6,0A0.6,0.6 0 1,1 0.6,0Z' : 'M0,-0.7L0.65,0.45L-0.65,0.45Z')"}},
            "size": {"value": 64},
            "fill": {"value": {"expr": "(datum.value == '128' || datum.value == '512' || datum.value == '2048') ? 'white' : datum.value == '256' ? '#11a0ee' : datum.value == '1024' ? '#ff8000' : datum.value == '4096' ? '#ff0000' : 'transparent'"}}
          }}
        }},
      "fill": {"field": "N", "type": "nominal", "scale": {"domain": ["16","32","64","128","256","512","1024","2048","4096"], "range": ["transparent","transparent","transparent","transparent","#11a0ee","transparent","#ff8000","transparent","#ff0000"]}, "legend": null},
      "shape": {"field": "N", "type": "nominal", "scale": {"domain": ["16","32","64","128","256","512","1024","2048","4096"], "range": ["M-1,0H1M0,-1V1","M-0.8,-0.8L0.8,0.8M-0.8,0.8L0.8,-0.8","M-1,0H1M0,-1V1M-0.7,-0.7L0.7,0.7M-0.7,0.7L0.7,-0.7","square","square","circle","circle","triangle-up","triangle-up"]}, "legend": null},
      "size": {"field": "N", "type": "ordinal", "scale": {"domain": ["16","32","64","128","256","512","1024","2048","4096"], "range": [12, 10, 12, 14, 14, 16, 18, 20, 16]}, "legend": null}
    }
  },
  {
    "transform": [{"filter": "isValid(datum.e)"}],
    "mark": {"type": "errorbar", "ticks": {"size": 4, "thickness": 1}, "thickness": 1, "opacity": 0.5},
    "encoding": {
      "x": {"field": "T", "type": "quantitative", "scale": {"domain": [0, 2], "nice": false, "zero": false}, "axis": {"orient": "top", "labels": false, "title": null, "grid": false, "values": [0, 0.5, 1, 1.5, 2]}},
      "y": {"field": "c", "type": "quantitative", "scale": {"domain": [-10, 400], "nice": false, "zero": false}, "axis": {"orient": "right", "labels": false, "title": null, "grid": false, "values": [0, 50, 100, 150, 200, 250, 300, 350, 400]}},
      "yError": {"field": "e"},
      "color": {"field": "N", "type": "nominal", "scale": {"domain": ["16","32","64","128","256","512","1024","2048","4096"], "range": ["#f25050","#44dd44","#3333ff","#ff33cc","#11a0ee","#eeee00","#ff8000","#cc5599","#ff0000"]}}
    }
  }
],
"resolve": {"axis": {"x": "independent", "y": "independent"}}
}
